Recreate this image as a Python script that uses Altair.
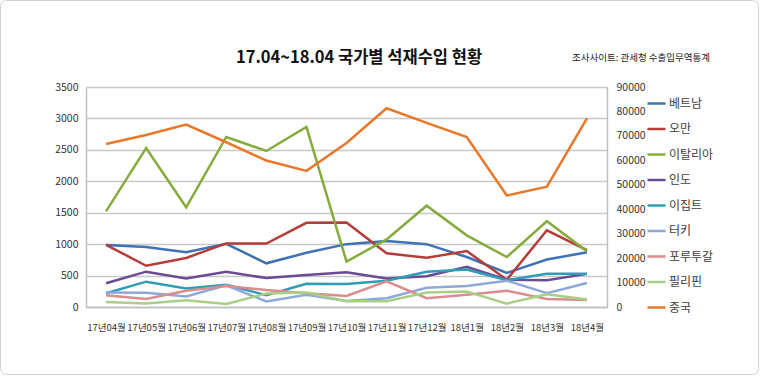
import altair as alt
import pandas as pd

months = ["17년04월", "17년05월", "17년06월", "17년07월", "17년08월", "17년09월",
          "17년10월", "17년11월", "17년12월", "18년1월", "18년2월", "18년3월", "18년4월"]

countries = ["베트남", "오만", "이탈리아", "인도", "이집트", "터키", "포루투갈", "필리핀", "중국"]
colors = ["#3F72B5", "#B53C39", "#86AC3E", "#6B4B94", "#2F9DB6", "#8DA9DB", "#DA8D8C", "#A9CF87", "#E9782A"]

vietnam = [985, 955, 873, 1005, 695, 862, 1000, 1050, 1000, 795, 543, 755, 870]
oman = [990, 656, 780, 1012, 1010, 1340, 1345, 855, 782, 890, 435, 1220, 905]
italy = [1522, 2530, 1586, 2705, 2482, 2864, 722, 1075, 1612, 1140, 795, 1365, 885]
india = [378, 562, 452, 562, 460, 510, 554, 452, 489, 640, 435, 425, 527]
egypt = [218, 403, 296, 355, 188, 371, 366, 419, 560, 597, 425, 527, 527]
turkey = [231, 226, 167, 344, 88, 194, 97, 140, 305, 333, 419, 220, 382]
portugal = [188, 129, 258, 333, 269, 220, 177, 409, 140, 194, 258, 129, 113]
philippines = [81, 54, 108, 48, 215, 231, 91, 91, 231, 247, 54, 204, 118]
china = [66700, 70400, 74600, 67400, 59900, 55700, 67100, 81300, 75300, 69500, 45600, 49200, 77200]

title_text = "17.04~18.04 국가별 석재수입 현황"
note_text = "조사사이트: 관세청 수출입무역통계"

left_series = {"베트남": vietnam, "오만": oman, "이탈리아": italy, "인도": india,
               "이집트": egypt, "터키": turkey, "포루투갈": portugal, "필리핀": philippines}

rows = []
for name, vals in left_series.items():
    for m, v in zip(months, vals):
        rows.append({"country": name, "month": m, "value": v})
left_df = pd.DataFrame(rows)
right_df = pd.DataFrame({"country": "중국", "month": months, "value": china})

FONT = "Noto Sans CJK KR"

color = alt.Color(
    "country:N",
    scale=alt.Scale(domain=countries, range=colors),
    legend=alt.Legend(
        title=None, orient="none", legendX=560, legendY=6,
        symbolType="stroke", symbolSize=324, symbolStrokeWidth=2.5,
        labelFontSize=12, labelFont=FONT, labelColor="#404040",
        rowPadding=8.5, labelOffset=2,
    ),
)

x = alt.X(
    "month:N", sort=months, title=None,
    axis=alt.Axis(labelAngle=0, labelFontSize=9.5, labelFont=FONT, labelColor="#333333",
                  ticks=False, labelPadding=15, domainColor="#bfbfbf", domainWidth=1.5,
                  grid=False),
)

left = alt.Chart(left_df).mark_line(strokeWidth=2.5).encode(
    x=x,
    y=alt.Y("value:Q", title=None, scale=alt.Scale(domain=[0, 3500], nice=False),
            axis=alt.Axis(values=list(range(0, 3501, 500)), format="d", labelFontSize=10.5,
                          labelFont=FONT, labelColor="#333333", ticks=False, labelPadding=8,
                          domainColor="#bfbfbf", domainWidth=1.5,
                          gridColor="#c8c8c8", gridWidth=1.5, orient="left")),
    color=color,
)

right = alt.Chart(right_df).mark_line(strokeWidth=2.5).encode(
    x=x,
    y=alt.Y("value:Q", title=None, scale=alt.Scale(domain=[0, 90000], nice=False),
            axis=alt.Axis(values=list(range(0, 90001, 10000)), format="d", labelFontSize=10.5,
                          labelFont=FONT, labelColor="#333333", ticks=False, labelPadding=9,
                          domainColor="#bfbfbf", domainWidth=1.5, grid=False, orient="right")),
    color=color,
)

text_df = pd.DataFrame({"title": [title_text], "note": [note_text]})

title = alt.Chart(text_df).mark_text(align="center", baseline="middle", fontSize=16.5,
                                     fontWeight="bold", font=FONT, color="#111111").encode(
    x=alt.value(273), y=alt.value(-29), text="title:N")

note = alt.Chart(text_df).mark_text(align="left", baseline="middle", fontSize=9.5,
                                     font=FONT, color="#222222").encode(
    x=alt.value(486), y=alt.value(-29), text="note:N")

border = alt.Chart(text_df).mark_rect(fill=None, stroke="#d0d0d0", strokeWidth=1,
                                      cornerRadius=6).encode(
    x=alt.value(-85.5), x2=alt.value(672.5), y=alt.value(-86.5), y2=alt.value(287.5))

chart = alt.layer(left, right, title, note, border).resolve_scale(y="independent").properties(
    width=521, height=220,
    autosize="none",
    padding={"left": 86, "top": 87, "right": 153, "bottom": 69},
).configure_view(stroke=None).configure(background="white")

chart.save("out.html", embed_options={"renderer": "svg", "actions": False})
